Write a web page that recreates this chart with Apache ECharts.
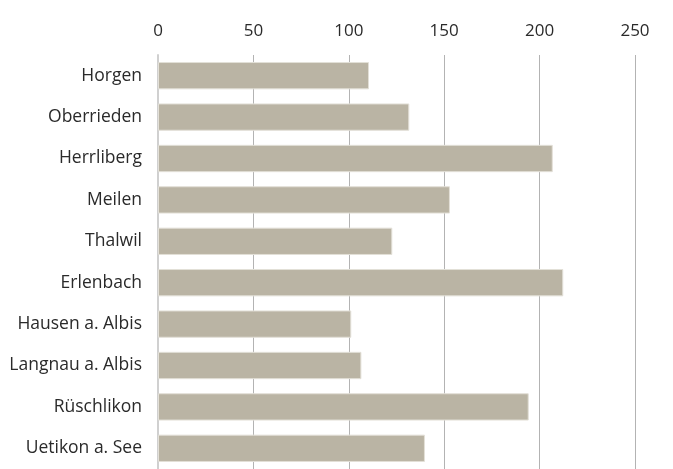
<!DOCTYPE html>
<html><head><meta charset="utf-8">
<script src="https://cdn.jsdelivr.net/npm/echarts@6/dist/echarts.min.js"></script>
<style>html,body{margin:0;padding:0;background:#fff}#c{width:673px;height:469px}</style>
</head><body><div id="c"></div>
<script>
const categories = ["Horgen","Oberrieden","Herrliberg","Meilen","Thalwil","Erlenbach","Hausen a. Albis","Langnau a. Albis","Rüschlikon","Uetikon a. See"];
const values = [110.6,131.7,206.9,153.0,122.8,212.4,101.3,106.6,194.3,139.9];
const chart = echarts.init(document.getElementById('c'), null, {renderer:'canvas'});
chart.setOption({
  animation:false,
  grid:{left:158,right:38,top:55,bottom:-3,containLabel:false},
  xAxis:{type:'value',position:'top',min:0,max:250,interval:50,
    axisLabel:{color:'#2a2a2a',fontSize:17,fontFamily:'Open Sans',margin:15},
    axisLine:{show:false},
    axisTick:{show:false},
    splitLine:{show:true,lineStyle:{color:'#b3b3b3',width:1}}},
  yAxis:{type:'category',data:categories,inverse:true,
    axisLabel:{color:'#2a2a2a',fontSize:17.5,fontFamily:'Open Sans',margin:16},
    axisTick:{show:false},
    axisLine:{show:true,lineStyle:{color:'#d0d0d0',width:2}}},
  series:[{type:'bar',data:values,barCategoryGap:'34%',
    itemStyle:{color:'#bab4a4',borderColor:'#e3e0d8',borderWidth:1}}]
});
</script></body></html>
